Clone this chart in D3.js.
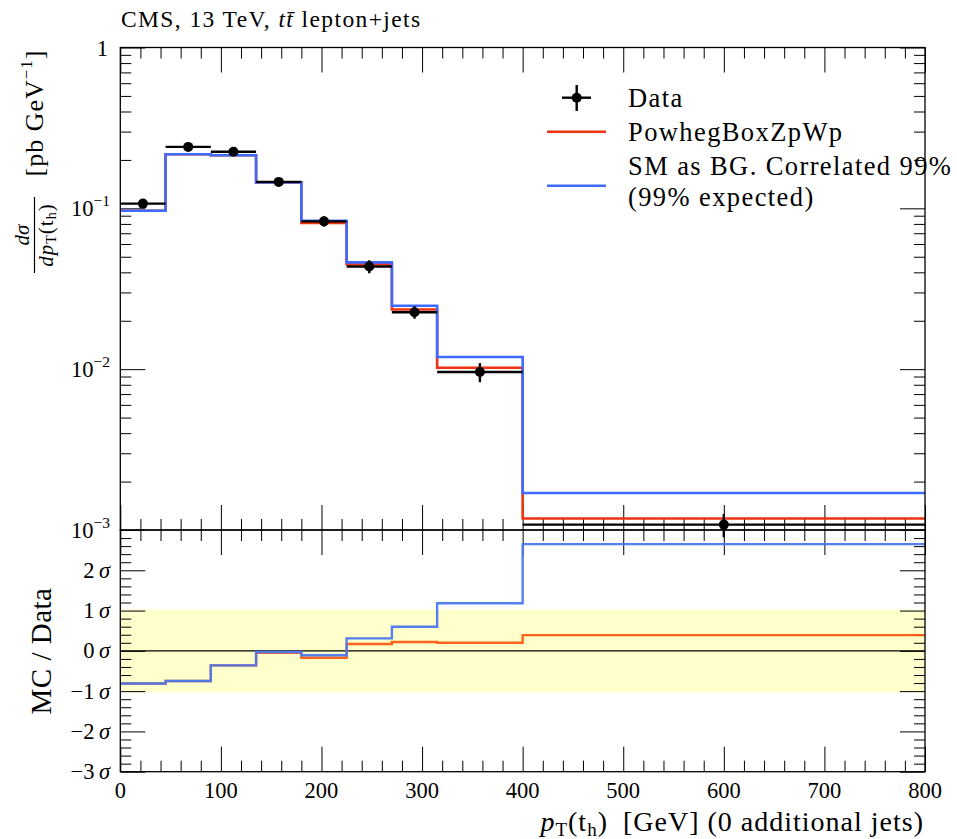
<!DOCTYPE html>
<html><head><meta charset="utf-8">
<script src="https://cdn.jsdelivr.net/npm/d3@7"></script>
<style>body{margin:0;background:#fff} text{font-family:"Liberation Serif","Times New Roman",serif;fill:#000}</style>
</head><body><svg id="c" width="957" height="839"></svg>
<script>
// ---------------- data ----------------
const binEdges   = [0, 45, 90, 135, 180, 225, 270, 315, 400, 800];
const dataVals   = [0.107, 0.241, 0.225, 0.146, 0.083, 0.0435, 0.0226, 0.0096, 0.00108];
const dataErr    = [0.004, 0.009, 0.009, 0.006, 0.006, 0.004, 0.002, 0.0013, 0.00018];
const powhegVals = [0.0966, 0.217, 0.214, 0.145, 0.081, 0.0449, 0.0235, 0.0102, 0.00118];
const smbgVals   = [0.0966, 0.217, 0.214, 0.145, 0.0838, 0.0461, 0.0248, 0.0119, 0.0017];
const powhegSig  = [-0.81, -0.75, -0.36, -0.05, -0.17, 0.17, 0.22, 0.20, 0.39];
const smbgSig    = [-0.81, -0.75, -0.36, -0.03, -0.11, 0.31, 0.60, 1.18, 2.65];
const xTickVals  = [0, 100, 200, 300, 400, 500, 600, 700, 800];
const yUpDecades = [-3, -2, -1, 0];
const sigmaTicks = [-3, -2, -1, 0, 1, 2];
const legendLabels = ["Data", "PowhegBoxZpWp", "SM as BG. Correlated 99%", "(99% expected)"];

const RED = "#ee3311", BLUE = "#3d6bff";
const svg = d3.select("#c");

const L = 120.3, R = 925, T = 47.5, M = 530, B = 771.7;
const x = d3.scaleLinear([0, 800], [L, R]);
const yUp = d3.scaleLog([1e-3, 1], [M, T]);
const yLo = d3.scaleLinear([-3, 3], [B, M]);

// yellow band
svg.append("rect").attr("x", L).attr("width", R - L)
  .attr("y", yLo(1.03)).attr("height", yLo(-1.03) - yLo(1.03)).attr("fill", "#ffffcc");

// zero line
svg.append("line").attr("x1", L).attr("x2", R).attr("y1", yLo(0)).attr("y2", yLo(0))
  .attr("stroke", "#000").attr("stroke-width", 1.3);

// ---------- ticks ----------
function tickAxis(axisFn, scale, vals, size, tx, ty) {
  const g = svg.append("g").attr("transform", `translate(${tx},${ty})`)
    .call(axisFn(scale).tickValues(vals).tickSize(size).tickFormat(""));
  g.select(".domain").remove();
  g.selectAll("line").attr("stroke", "#000").attr("stroke-width", 1);
  return g;
}
const xMajor = xTickVals;
const xMinor = d3.range(0, 801, 20).filter(v => v % 100 !== 0);
const MAJ = 25, MIN = 11;
// upper panel top / bottom
tickAxis(d3.axisTop, x, xMajor, -MAJ, 0, T);
tickAxis(d3.axisTop, x, xMinor, -MIN, 0, T);
tickAxis(d3.axisBottom, x, xMajor, -MAJ, 0, M);
tickAxis(d3.axisBottom, x, xMinor, -MIN, 0, M);
// lower panel top / bottom
tickAxis(d3.axisTop, x, xMajor, -MAJ, 0, M);
tickAxis(d3.axisTop, x, xMinor, -MIN, 0, M);
tickAxis(d3.axisBottom, x, xMajor, -MAJ, 0, B);
tickAxis(d3.axisBottom, x, xMinor, -MIN, 0, B);
// upper y
const yMajor = yUpDecades.map(e => Math.pow(10, e));
const yMinor = [];
yUpDecades.slice(0, -1).forEach(e => { for (let k = 2; k <= 9; k++) yMinor.push(k * Math.pow(10, e)); });
tickAxis(d3.axisLeft, yUp, yMajor, -MAJ, L, 0);
tickAxis(d3.axisLeft, yUp, yMinor, -MIN, L, 0);
tickAxis(d3.axisRight, yUp, yMajor, -MAJ, R, 0);
tickAxis(d3.axisRight, yUp, yMinor, -MIN, R, 0);
// lower y
const sMinor = d3.range(-30, 31, 2).map(v => v / 10).filter(v => Math.abs(v - Math.round(v)) > 1e-6);
tickAxis(d3.axisLeft, yLo, sigmaTicks, -MAJ, L, 0);
tickAxis(d3.axisLeft, yLo, sMinor, -MIN, L, 0);
tickAxis(d3.axisRight, yLo, sigmaTicks, -MAJ, R, 0);
tickAxis(d3.axisRight, yLo, sMinor, -MIN, R, 0);

// ---------- step lines ----------
const stepLine = d3.line().curve(d3.curveStepAfter);
function stepPts(vals, ys) {
  const p = vals.map((v, i) => [x(binEdges[i]), ys(v)]);
  p.push([x(binEdges[binEdges.length - 1]), ys(vals[vals.length - 1])]);
  return p;
}
svg.append("path").attr("d", stepLine(stepPts(powhegVals, yUp))).attr("fill", "none")
  .attr("stroke", RED).attr("stroke-width", 2.6);
svg.append("path").attr("d", stepLine(stepPts(smbgVals, yUp))).attr("fill", "none")
  .attr("stroke", BLUE).attr("stroke-width", 2.6);
svg.append("path").attr("d", stepLine(stepPts(powhegSig, yLo))).attr("fill", "none")
  .attr("stroke", "#ff5a10").attr("stroke-width", 2.4).attr("stroke-opacity", 0.95);
svg.append("path").attr("d", stepLine(stepPts(smbgSig, yLo))).attr("fill", "none")
  .attr("stroke", "#4a78f0").attr("stroke-width", 2.4).attr("stroke-opacity", 0.95);

// ---------- data ----------
const dg = svg.append("g");
dataVals.forEach((v, i) => {
  const x0 = x(binEdges[i]), x1 = x(binEdges[i + 1]), xc = (x0 + x1) / 2;
  dg.append("line").attr("x1", x0).attr("x2", x1).attr("y1", yUp(v)).attr("y2", yUp(v))
    .attr("stroke", "#000").attr("stroke-width", 2.4);
  dg.append("line").attr("x1", xc).attr("x2", xc).attr("y1", yUp(v + dataErr[i])).attr("y2", yUp(v - dataErr[i]))
    .attr("stroke", "#000").attr("stroke-width", 2.4);
  dg.append("circle").attr("cx", xc).attr("cy", yUp(v)).attr("r", 5).attr("fill", "#000");
});

// frames
svg.append("rect").attr("x", L).attr("y", T).attr("width", R - L).attr("height", M - T)
  .attr("fill", "none").attr("stroke", "#000").attr("stroke-width", 1.3);
svg.append("rect").attr("x", L).attr("y", M).attr("width", R - L).attr("height", B - M)
  .attr("fill", "none").attr("stroke", "#000").attr("stroke-width", 1.3);

// ---------- tick labels ----------
svg.append("g").selectAll("text").data(xTickVals).join("text")
  .attr("x", d => x(d)).attr("y", 798).attr("text-anchor", "middle")
  .attr("font-size", 22.5).text(d => d);

yUpDecades.forEach(e => {
  const t = svg.append("text").attr("x", 110).attr("y", yUp(Math.pow(10, e)) + 8)
    .attr("text-anchor", "end").attr("font-size", 22.5);
  if (e === 0) { t.attr("x", 108).text("1"); }
  else {
    t.append("tspan").text("10");
    t.append("tspan").attr("dy", -10).attr("font-size", 15.5).text("\u2212" + (-e));
  }
});
sigmaTicks.forEach(s => {
  const t = svg.append("text").attr("x", 110).attr("y", yLo(s) + 7.5)
    .attr("text-anchor", "end").attr("font-size", 22.5);
  t.append("tspan").text((s < 0 ? "\u2212" + (-s) : "" + s) + "\u2009");
  t.append("tspan").attr("font-style", "italic").text("\u03c3");
});

// ---------- title ----------
const title = svg.append("text").attr("x", 121).attr("y", 27).attr("font-size", 23.5)
  .attr("letter-spacing", 1.4);
title.append("tspan").text("CMS, 13 TeV, ");
title.append("tspan").attr("font-style", "italic").text("t");
title.append("tspan").attr("font-style", "italic").text("t\u0304");
title.append("tspan").text(" lepton+jets");

// ---------- axis titles ----------
const xl = svg.append("text").attr("x", 924).attr("y", 831).attr("text-anchor", "end")
  .attr("font-size", 28).attr("letter-spacing", 1);
xl.append("tspan").attr("font-style", "italic").text("p");
xl.append("tspan").attr("font-size", 19).attr("dy", 5).text("T");
xl.append("tspan").attr("dy", -5).text("(t");
xl.append("tspan").attr("font-size", 19).attr("dy", 5).text("h");
xl.append("tspan").attr("dy", -5).text(")\u2002[GeV] (0 additional jets)");

// lower y title
svg.append("text").attr("transform", "translate(51,651) rotate(-90)")
  .attr("text-anchor", "middle").attr("font-size", 29).attr("letter-spacing", 0.5).text("MC / Data");

// upper y title
const yg = svg.append("g").attr("transform", "rotate(-90)");
const u1 = yg.append("text").attr("x", -113).attr("y", 43).attr("text-anchor", "middle")
  .attr("font-size", 26).attr("letter-spacing", 1);
u1.append("tspan").text("[pb GeV");
u1.append("tspan").attr("dy", -11).attr("font-size", 17).text("\u22121");
u1.append("tspan").attr("dy", 11).text("]");
yg.append("text").attr("x", -235).attr("y", 29).attr("text-anchor", "middle")
  .attr("font-size", 21).attr("font-style", "italic").text("d\u03c3");
yg.append("line").attr("x1", -197).attr("x2", -273).attr("y1", 34.5).attr("y2", 34.5)
  .attr("stroke", "#000").attr("stroke-width", 1.2);
const den = yg.append("text").attr("x", -235).attr("y", 53).attr("text-anchor", "middle")
  .attr("font-size", 21).attr("letter-spacing", 1);
den.append("tspan").attr("font-style", "italic").text("dp");
den.append("tspan").attr("font-size", 14).attr("dy", 3).text("T");
den.append("tspan").attr("dy", -3).text("(t");
den.append("tspan").attr("font-size", 14).attr("dy", 3).text("h");
den.append("tspan").attr("dy", -3).text(")");

// ---------- legend ----------
const lg = svg.append("g");
lg.append("line").attr("x1", 562).attr("x2", 591).attr("y1", 97.7).attr("y2", 97.7).attr("stroke", "#000").attr("stroke-width", 2.4);
lg.append("line").attr("x1", 576.7).attr("x2", 576.7).attr("y1", 85).attr("y2", 111).attr("stroke", "#000").attr("stroke-width", 2.4);
lg.append("circle").attr("cx", 576.7).attr("cy", 97.7).attr("r", 5).attr("fill", "#000");
lg.append("line").attr("x1", 547).attr("x2", 606).attr("y1", 131.7).attr("y2", 131.7).attr("stroke", RED).attr("stroke-width", 2.6);
lg.append("line").attr("x1", 547).attr("x2", 606).attr("y1", 185.7).attr("y2", 185.7).attr("stroke", BLUE).attr("stroke-width", 2.6);
const legY = [107, 140.5, 175, 205.5];
legendLabels.forEach((s, i) => {
  lg.append("text").attr("x", 628).attr("y", legY[i]).attr("font-size", 26.5)
    .attr("letter-spacing", 1.4).text(s);
});
</script></body></html>
